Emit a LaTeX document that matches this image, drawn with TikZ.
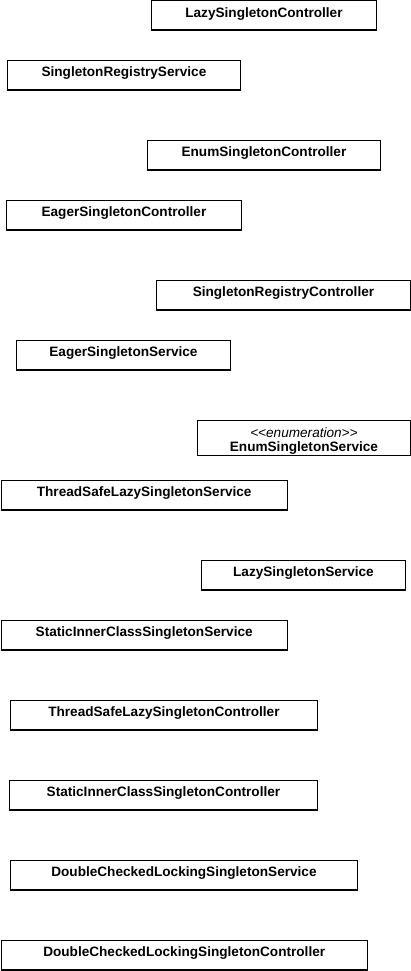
\documentclass[tikz,border=0pt]{standalone}
\usepackage{fontspec}
\setmainfont{Liberation Sans}
\tikzset{
  clsbox/.style={draw=black, line width=0.9pt, fill=white, anchor=north west, inner sep=0pt},
  sepline/.style={draw=black, line width=0.6pt},
  clsname/.style={inner sep=0pt, font=\bfseries\fontsize{13.6}{15}\selectfont},
  stereo/.style={inner sep=0pt, font=\itshape\fontsize{13.6}{15}\selectfont}
}
\newcommand\umlclass[6]{%
  \node[clsbox, minimum width={#4-#2}, minimum height={#5-#3}] (#1) at (#2,#3) {};
  \draw[sepline] ([yshift=1.4pt]#1.south west) -- ([yshift=1.4pt]#1.south east);
  \node[clsname] (#1-t) at ([yshift=-13.5pt]#1.north) {#6};
}
\begin{document}
\begin{tikzpicture}[x=1pt,y=-1pt]
\useasboundingbox (0,0) rectangle (411,971);
\umlclass{lsc}{151}{0.5}{376}{30}{LazySingletonController}
\umlclass{srs}{7}{60}{240}{90}{SingletonRegistryService}
\umlclass{esc}{147}{140}{380}{170}{EnumSingletonController}
\umlclass{egc}{6}{200}{241}{230}{EagerSingletonController}
\umlclass{src}{156}{280}{410}{310}{SingletonRegistryController}
\umlclass{egs}{16}{340}{230}{370}{EagerSingletonService}
% enumeration
\node[clsbox, minimum width=213pt, minimum height=35pt] (ess) at (197,420) {};
\node[stereo] (ess-s) at ([yshift=-13pt]ess.north) {<\kern0pt<enumeration>\kern0pt>};
\node[clsname] (ess-t) at ([yshift=-28.5pt]ess.north) {EnumSingletonService};
\umlclass{tls}{0.5}{480}{287}{510}{ThreadSafeLazySingletonService}
\umlclass{lss}{201}{560}{405}{590}{LazySingletonService}
\umlclass{sis}{0.5}{620}{287}{650}{StaticInnerClassSingletonService}
\umlclass{tlc}{10}{700}{317}{730}{ThreadSafeLazySingletonController}
\umlclass{sic}{9}{780}{317}{810}{StaticInnerClassSingletonController}
\umlclass{dls}{10}{860}{357}{890}{DoubleCheckedLockingSingletonService}
\umlclass{dlc}{0.5}{940}{367}{970}{DoubleCheckedLockingSingletonController}
\end{tikzpicture}
\end{document}
